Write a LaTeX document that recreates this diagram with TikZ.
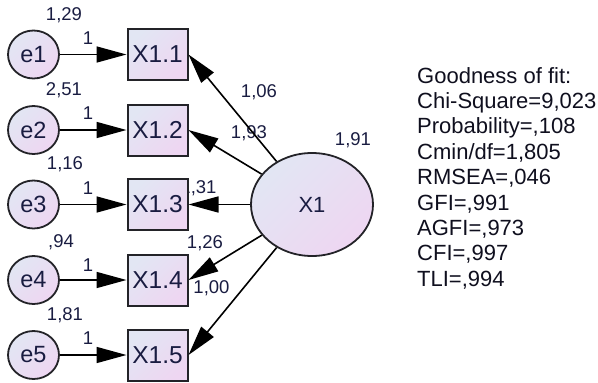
\documentclass[tikz,border=0pt]{standalone}
\usepackage{fontspec}
\setmainfont{Liberation Sans}
\usetikzlibrary{arrows.meta,shapes.geometric}
\definecolor{labc}{RGB}{25,28,65}
\definecolor{txtc}{RGB}{15,15,30}
\definecolor{fillA}{RGB}{226,230,243}
\definecolor{fillB}{RGB}{238,214,242}
\definecolor{edgec}{RGB}{35,35,40}
\tikzset{
  shadefill/.style={top color=fillA, bottom color=fillB, shading angle=45},
  obsbox/.style={rectangle, draw=edgec, line width=2pt, shadefill, minimum width=60pt, minimum height=51pt, inner sep=0pt, text=labc, font=\fontsize{24.5}{29}\selectfont},
  errc/.style={ellipse, draw=edgec, line width=1.8pt, shadefill, minimum width=51pt, minimum height=48pt, inner sep=0pt, text=labc, font=\fontsize{23.5}{28}\selectfont},
  latc/.style={ellipse, draw=edgec, line width=1.8pt, shadefill, minimum width=122pt, minimum height=103pt, inner sep=0pt, text=labc, font=\fontsize{22}{26}\selectfont},
  parlab/.style={text=labc, inner sep=0pt, font=\fontsize{18.5}{22}\selectfont},
  arr/.style={line width=1.6pt, -{Triangle[length=30pt,width=16pt]}},
  fitline/.style={anchor=base west, inner sep=0pt, text=txtc, font=\fontsize{22}{25}\selectfont}
}
\begin{document}
\begin{tikzpicture}[x=1pt,y=-1pt]
\useasboundingbox (0,0) rectangle (598,383);
% parameter labels (drawn first, shapes overlap them)
\node[parlab] (v1) at (64,15) {1,29};
\node[parlab] (w1) at (88,38) {1};
\node[parlab] (v2) at (64,90) {2,51};
\node[parlab] (w2) at (88,113) {1};
\node[parlab] (v3) at (65,164) {1,16};
\node[parlab] (w3) at (88,188) {1};
\node[parlab] (v4) at (61,242) {,94};
\node[parlab] (w4) at (88,265) {1};
\node[parlab] (v5) at (65,315) {1,81};
\node[parlab] (w5) at (88,338) {1};
\node[parlab] (l1) at (259,92) {1,06};
\node[parlab] (l2) at (249,133) {1,93};
\node[parlab] (l3) at (198.5,188) {1,31};
\node[parlab] (l4) at (205,243) {1,26};
\node[parlab] (l5) at (211.5,288) {1,00};
\node[parlab] (vx) at (353,140) {1,91};
% shapes
\foreach \i/\y in {1/54.5,2/130,3/204.5,4/280,5/355}{
  \node[errc] (e\i) at (33.5,\y) {e\i};
  \node[obsbox] (b\i) at (157.5,\y) {X1.\i};
  \draw[arr] (e\i) -- (b\i);
}
\node[latc] (x1) at (312,204.5) {X1};
\foreach \i in {1,...,5}{
  \draw[arr] (x1) -- (b\i.east);
}
% goodness of fit block
\foreach \t [count=\i] in {{Goodness of fit:},{Chi-Square=9,023},{Probability=,108},{Cmin/df=1,805},{RMSEA=,046},{GFI=,991},{AGFI=,973},{CFI=,997},{TLI=,994}}{
  \node[fitline] (g\i) at (417,{83+25.4*(\i-1)}) {\t};
}
\end{tikzpicture}
\end{document}
